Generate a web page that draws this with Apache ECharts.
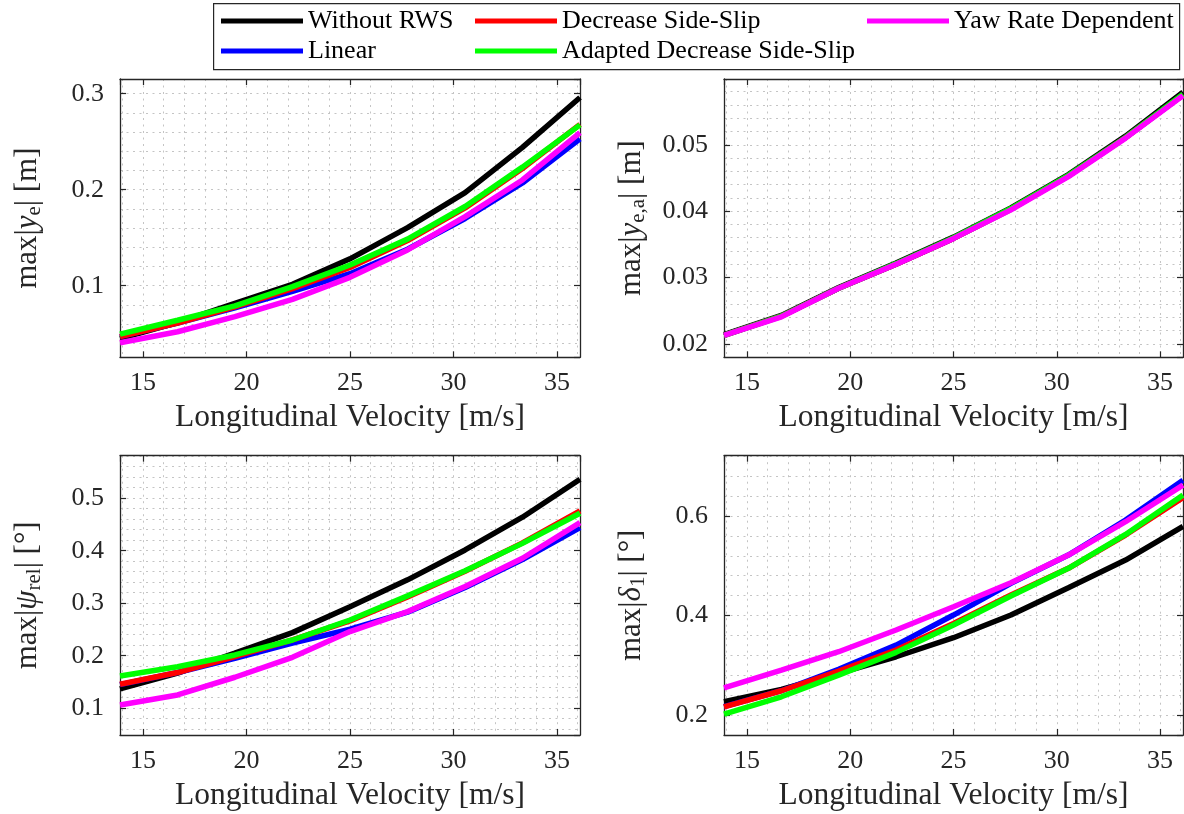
<!DOCTYPE html>
<html>
<head>
<meta charset="utf-8">
<script src="https://cdn.jsdelivr.net/npm/echarts@6/dist/echarts.min.js"></script>
<style>html,body{margin:0;padding:0;background:#fff}#c{width:1184px;height:814px}</style>
</head>
<body>
<div id="c"></div>
<script>
// Longitudinal velocity [m/s] (50..130 km/h)
const velocity = [13.89, 16.67, 19.44, 22.22, 25.00, 27.78, 30.56, 33.33, 36.11];

const seriesNames = ['Without RWS', 'Linear', 'Decrease Side-Slip', 'Adapted Decrease Side-Slip', 'Yaw Rate Dependent'];
const seriesColors = ['#000000', '#0000ff', '#ff0000', '#00ff00', '#ff00ff'];

// max|y_e| [m]
const yeWithout  = [0.0450, 0.0615, 0.0815, 0.1015, 0.1280, 0.1605, 0.1970, 0.2440, 0.2960];
const yeLinear   = [0.0470, 0.0610, 0.0770, 0.0940, 0.1125, 0.1380, 0.1700, 0.2070, 0.2530];
const yeDecrease = [0.0470, 0.0610, 0.0780, 0.0970, 0.1190, 0.1470, 0.1810, 0.2220, 0.2680];
const yeAdapted  = [0.0495, 0.0640, 0.0790, 0.0990, 0.1215, 0.1485, 0.1825, 0.2235, 0.2675];
const yeYaw      = [0.0406, 0.0520, 0.0677, 0.0858, 0.1087, 0.1372, 0.1719, 0.2101, 0.2595];

// max|y_e,a| [m]
const yeaWithout  = [0.0214, 0.0243, 0.0285, 0.0322, 0.0361, 0.0405, 0.0455, 0.0513, 0.0579];
const yeaLinear   = [0.0213, 0.0242, 0.0284, 0.0320, 0.0359, 0.0403, 0.0453, 0.0511, 0.0575];
const yeaDecrease = [0.0213, 0.0242, 0.0284, 0.0320, 0.0359, 0.0403, 0.0453, 0.0511, 0.0575];
const yeaAdapted  = [0.0213, 0.0242, 0.0284, 0.0321, 0.0360, 0.0404, 0.0454, 0.0511, 0.0576];
const yeaYaw      = [0.0213, 0.0241, 0.0284, 0.0320, 0.0359, 0.0402, 0.0452, 0.0510, 0.0574];

// max|psi_rel| [deg]
const psiWithout  = [0.137, 0.167, 0.205, 0.244, 0.2935, 0.3445, 0.4015, 0.4638, 0.536];
const psiLinear   = [0.145, 0.168, 0.195, 0.224, 0.2505, 0.2830, 0.3300, 0.3830, 0.444];
const psiDecrease = [0.1457, 0.168, 0.1983, 0.230, 0.2663, 0.3120, 0.3610, 0.4150, 0.476];
const psiAdapted  = [0.1615, 0.179, 0.2015, 0.230, 0.2680, 0.3140, 0.3620, 0.4140, 0.4714];
const psiYaw      = [0.1063, 0.1253, 0.1590, 0.1970, 0.2460, 0.2840, 0.3317, 0.3857, 0.4535];

// max|delta_1| [deg]
const deltaWithout  = [0.2268, 0.2516, 0.2838, 0.3172, 0.3555, 0.4010, 0.4560, 0.5116, 0.5790];
const deltaLinear   = [0.2170, 0.2490, 0.2920, 0.3407, 0.4010, 0.4647, 0.5216, 0.5920, 0.6720];
const deltaDecrease = [0.2167, 0.2489, 0.2885, 0.3307, 0.3843, 0.4412, 0.4949, 0.5618, 0.6370];
const deltaAdapted  = [0.2020, 0.2368, 0.2804, 0.3260, 0.3809, 0.4392, 0.4949, 0.5630, 0.6420];
const deltaYaw      = [0.2549, 0.2905, 0.3273, 0.3709, 0.4177, 0.4660, 0.5216, 0.5886, 0.6623];

const xLabel = 'Longitudinal Velocity [m/s]';

const FONT = 'Liberation Serif';
const INK = '#262626';
const GRIDC = '#c4c4c4';

const panels = [
  { box: {left: 120, top: 79, width: 460, height: 278.3}, yMin: 0.0254, yMax: 0.3153, yStep: 0.1,
    name: 'max|{i|y}{s|e}| [m]', data: [yeWithout, yeLinear, yeDecrease, yeAdapted, yeYaw] },
  { box: {left: 724, top: 79, width: 459, height: 278.3}, yMin: 0.018, yMax: 0.0599, yStep: 0.01,
    name: 'max|{i|y}{s|e,a}| [m]', data: [yeaWithout, yeaLinear, yeaDecrease, yeaAdapted, yeaYaw] },
  { box: {left: 120, top: 455.7, width: 460, height: 279.3}, yMin: 0.049, yMax: 0.581, yStep: 0.1,
    name: 'max|{i|ψ}{s|rel}| [°]', data: [psiWithout, psiLinear, psiDecrease, psiAdapted, psiYaw] },
  { box: {left: 724, top: 455.7, width: 459, height: 279.3}, yMin: 0.16, yMax: 0.7212, yStep: 0.2,
    name: 'max|{i|δ}{s|1}| [°]', data: [deltaWithout, deltaLinear, deltaDecrease, deltaAdapted, deltaYaw] }
];

const grids = [], xAxes = [], yAxes = [], series = [];
const dotted = {color: GRIDC, width: 1, type: [2, 4.5]};
panels.forEach((p, i) => {
  grids.push(Object.assign({containLabel: false}, p.box));
  const xBase = {
    gridIndex: i, type: 'value', min: 13.89, max: 36.11, minInterval: 5, maxInterval: 5,
    axisLine: {show: true, onZero: false, lineStyle: {color: INK, width: 1.3}},
    axisTick: {show: true, inside: true, length: 6, lineStyle: {color: INK, width: 1.2}},
    minorTick: {show: false, splitNumber: 5}
  };
  xAxes.push(Object.assign({}, xBase, {
    position: 'bottom',
    axisLabel: {fontFamily: FONT, fontSize: 26, color: INK, margin: 13, showMinLabel: false, showMaxLabel: false},
    splitLine: {show: true, lineStyle: dotted},
    minorSplitLine: {show: true, lineStyle: dotted},
    name: xLabel, nameLocation: 'middle', nameGap: 45,
    nameTextStyle: {fontFamily: FONT, fontSize: 31.5, color: INK, lineHeight: 31}
  }));
  xAxes.push(Object.assign({}, xBase, {
    position: 'top', axisLabel: {show: false}, splitLine: {show: false}, minorSplitLine: {show: false}
  }));
  const yBase = {
    gridIndex: i, type: 'value', min: p.yMin, max: p.yMax, minInterval: p.yStep, maxInterval: p.yStep,
    axisLine: {show: true, onZero: false, lineStyle: {color: INK, width: 1.3}},
    axisTick: {show: true, inside: true, length: 6, lineStyle: {color: INK, width: 1.2}},
    minorTick: {show: false, splitNumber: 5}
  };
  yAxes.push(Object.assign({}, yBase, {
    position: 'left',
    axisLabel: {fontFamily: FONT, fontSize: 26, color: INK, margin: 16, showMinLabel: false, showMaxLabel: false},
    splitLine: {show: true, lineStyle: dotted},
    minorSplitLine: {show: true, lineStyle: dotted},
    name: p.name, nameLocation: 'middle', nameGap: 75, nameRotate: 90,
    nameTextStyle: {
      fontFamily: FONT, fontSize: 31, color: INK, lineHeight: 34,
      rich: {
        i: {fontFamily: FONT, fontSize: 31, fontStyle: 'italic', color: INK, lineHeight: 34},
        s: {fontFamily: FONT, fontSize: 21, color: INK, verticalAlign: 'bottom', lineHeight: 16}
      }
    }
  }));
  yAxes.push(Object.assign({}, yBase, {
    position: 'right', axisLabel: {show: false}, splitLine: {show: false}, minorSplitLine: {show: false}
  }));
  p.data.forEach((vals, k) => {
    series.push({
      type: 'line', name: seriesNames[k], xAxisIndex: 2 * i, yAxisIndex: 2 * i,
      data: velocity.map((v, j) => [v, vals[j]]),
      showSymbol: false, symbol: 'none', clip: true, z: 2 + k,
      lineStyle: {width: 5.5, color: seriesColors[k]}, itemStyle: {color: seriesColors[k]}
    });
  });
});

const legendBase = {
  orient: 'vertical', top: 8, itemWidth: 82, itemHeight: 5, itemGap: 4, icon: 'rect',
  padding: 0, selectedMode: false, z: 10,
  textStyle: {fontFamily: FONT, fontSize: 26, color: '#000', lineHeight: 26}
};

const option = {
  animation: false,
  backgroundColor: '#ffffff',
  grid: grids,
  xAxis: xAxes,
  yAxis: yAxes,
  series: series,
  legend: [
    Object.assign({}, legendBase, {left: 221, data: [seriesNames[0], seriesNames[1]]}),
    Object.assign({}, legendBase, {left: 475, data: [seriesNames[2], seriesNames[3]]}),
    Object.assign({}, legendBase, {left: 867, data: [seriesNames[4]]})
  ],
  graphic: [{
    type: 'rect', left: 213, top: 3, z: 1,
    shape: {width: 966, height: 66},
    style: {fill: '#ffffff', stroke: INK, lineWidth: 1.2}
  }]
};

const chart = echarts.init(document.getElementById('c'), null, {renderer: 'canvas'});
chart.setOption(option);
</script>
</body>
</html>
